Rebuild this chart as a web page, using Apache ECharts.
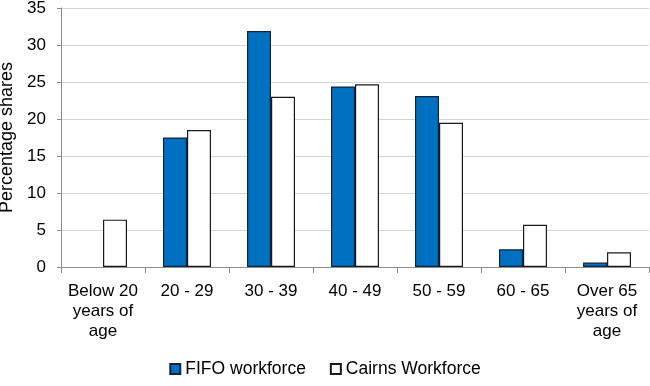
<!DOCTYPE html>
<html>
<head>
<meta charset="utf-8">
<script src="https://cdn.jsdelivr.net/npm/echarts@6/dist/echarts.min.js"></script>
<style>
  html, body { margin: 0; padding: 0; background: #fff; }
  #chart { width: 650px; height: 386px; }
</style>
</head>
<body>
<div id="chart"></div>
<script>
  var categories = ['Below 20\nyears of\nage', '20 - 29', '30 - 39', '40 - 49', '50 - 59', '60 - 65', 'Over 65\nyears of\nage']
  // no FIFO bar is drawn for the youngest group
  var fifo = [null, 17.5, 31.9, 24.4, 23.1, 2.4, 0.6]
  var cairns = [6.4, 18.5, 23.0, 24.7, 19.5, 5.7, 2.0]
  var yTicks = { min: 0, max: 35, interval: 5 }

  var chart = echarts.init(document.getElementById('chart'))
  var font = 'Liberation Sans, Arial, sans-serif'

  var option = {
    animation: false,
    textStyle: { fontFamily: font },
    grid: { left: 61, right: 1, top: 8, bottom: 119, outerBoundsMode: 'none', containLabel: false },
    legend: {
      bottom: 3,
      left: 'center',
      icon: 'rect',
      itemWidth: 10,
      itemHeight: 10,
      itemGap: 24,
      textStyle: { fontSize: 17.5, color: '#000', fontFamily: font },
      data: ['FIFO workforce', 'Cairns Workforce']
    },
    xAxis: {
      type: 'category',
      data: categories,
      axisLine: { lineStyle: { color: '#8c8c8c', width: 1 } },
      axisTick: { show: true, length: 6, lineStyle: { color: '#8c8c8c' } },
      axisLabel: {
        color: '#000', fontSize: 17, lineHeight: 20, margin: 14,
        interval: 0, fontFamily: font
      }
    },
    yAxis: {
      type: 'value',
      min: yTicks.min,
      max: yTicks.max,
      interval: yTicks.interval,
      name: 'Percentage shares',
      nameLocation: 'middle',
      nameGap: 41,
      nameTextStyle: { fontSize: 18, color: '#000', fontFamily: font },
      axisLine: { show: true, lineStyle: { color: '#8c8c8c' } },
      axisTick: { show: true, length: 4, lineStyle: { color: '#8c8c8c' } },
      splitLine: { lineStyle: { color: '#d4d4d4' } },
      axisLabel: { color: '#000', fontSize: 17, margin: 15, fontFamily: font }
    },
    series: [
      {
        name: 'FIFO workforce',
        type: 'bar',
        data: fifo,
        barWidth: 24,
        barGap: '0%',
        itemStyle: { color: '#0070c0', borderColor: '#12243a', borderWidth: 1.2 }
      },
      {
        name: 'Cairns Workforce',
        type: 'bar',
        data: cairns,
        barWidth: 24,
        itemStyle: { color: '#ffffff', borderColor: '#1a1a1a', borderWidth: 1.2 }
      }
    ]
  }

  chart.setOption(option)
</script>
</body>
</html>
